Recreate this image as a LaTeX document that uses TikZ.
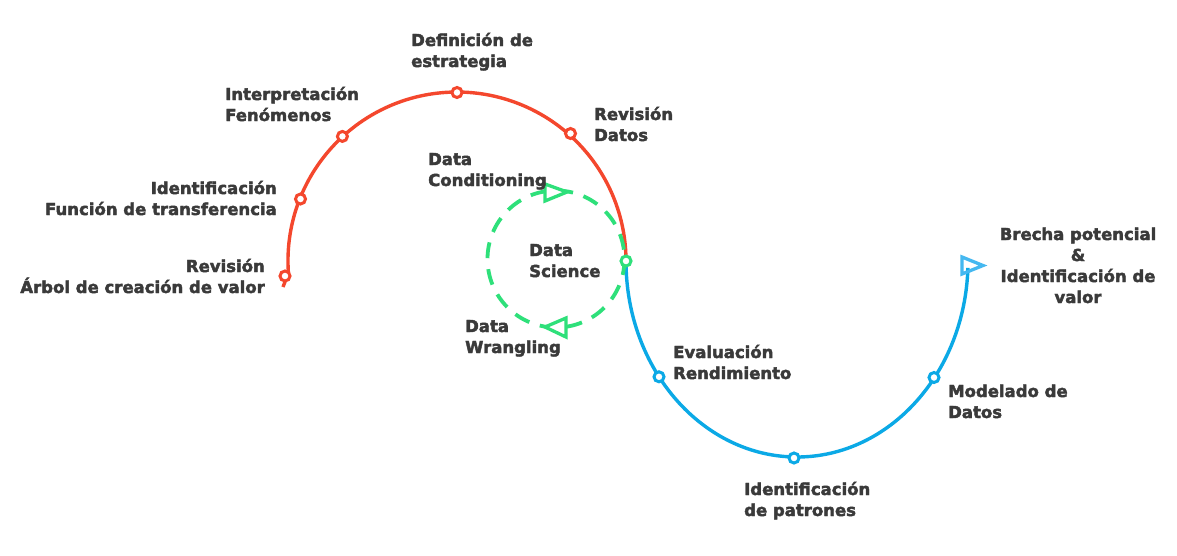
\documentclass[tikz,border=0pt]{standalone}
\usepackage{fontspec}
\setmainfont{DejaVu Sans}[BoldFeatures={FakeBold=2.5}]
\definecolor{cred}{HTML}{F4472D}
\definecolor{cblue}{HTML}{0BA9E6}
\definecolor{clblue}{HTML}{45B8F0}
\definecolor{cgreen}{HTML}{2EE07A}
\definecolor{ctext}{HTML}{3A3A3A}
\begin{document}
\begin{tikzpicture}[x=1pt,y=-1pt,
  lbl/.style={font=\bfseries\fontsize{16.5}{21}\selectfont, text=ctext, inner sep=0pt},
  lblL/.style={lbl, align=left, anchor=base west},
  lblR/.style={lbl, align=right, anchor=base east},
  redline/.style={draw=cred, line width=3.4pt},
  blueline/.style={draw=cblue, line width=3.4pt},
  dotr/.style={circle, draw=cred, fill=white, line width=3pt, minimum size=10pt, inner sep=0pt},
  dotb/.style={circle, draw=cblue, fill=white, line width=3pt, minimum size=10pt, inner sep=0pt},
  dotg/.style={circle, draw=cgreen, fill=white, line width=3pt, minimum size=10pt, inner sep=0pt},
  gdash/.style={draw=cgreen, line width=3.8pt, dash pattern=on 16pt off 11pt},
  gtri/.style={draw=cgreen, line width=3.3pt, fill=white, line join=miter},
  btri/.style={draw=clblue, line width=3.3pt, line join=miter}
]
\useasboundingbox[fill=white] (0,0) rectangle (1177,555);

% curves
\draw[redline] (283,287) -- (288.4,272.8) arc[start angle=176, end angle=360, radius=169];
\draw[blueline] (626,261) arc[start angle=180, end angle=2, x radius=171, y radius=196];
\draw[gdash] (556,259) circle[radius=68.5];

% triangles
\draw[gtri] (545,184) -- (567,192) -- (545,201) -- cycle;
\draw[gtri] (566,318) -- (545,327) -- (566,337) -- cycle;
\draw[btri] (962,257) -- (983,265.5) -- (962,274) -- cycle;

% markers
\node[dotr] (r1) at (285,276) {};
\node[dotr] (r2) at (300.5,199) {};
\node[dotr] (r3) at (342.4,136.4) {};
\node[dotr] (r4) at (457,92.5) {};
\node[dotr] (r5) at (570.5,133.5) {};
\node[dotb] (b1) at (659,376.8) {};
\node[dotb] (b2) at (794,458) {};
\node[dotb] (b3) at (934,377.5) {};
\node[dotg] (g0) at (626,261) {};

% labels (base anchor = baseline of the last line)
\node[lblL] (t1) at (411,67) {Definición de\\estrategia};
\node[lblL] (t2) at (225,121) {Interpretación\\Fenómenos};
\node[lblL] (t3) at (594,141) {Revisión\\Datos};
\node[lblR] (t4) at (277,215) {Identificación\\Función de transferencia};
\node[lblR] (t5) at (265,293) {Revisión\\Árbol de creación de valor};
\node[lblL] (t6) at (428,186) {Data\\Conditioning};
\node[lblL] (t7) at (529,277) {Data\\Science};
\node[lblL] (t8) at (465,353) {Data\\Wrangling};
\node[lblL] (t9) at (673,379) {Evaluación\\Rendimiento};
\node[lblL] (t10) at (744,516) {Identificación\\de patrones};
\node[lblL] (t11) at (948,418) {Modelado de\\Datos};
\node[lbl, align=center, anchor=base] (t12) at (1078,303) {Brecha potencial\\\&\\Identificación de\\valor};
\end{tikzpicture}
\end{document}
